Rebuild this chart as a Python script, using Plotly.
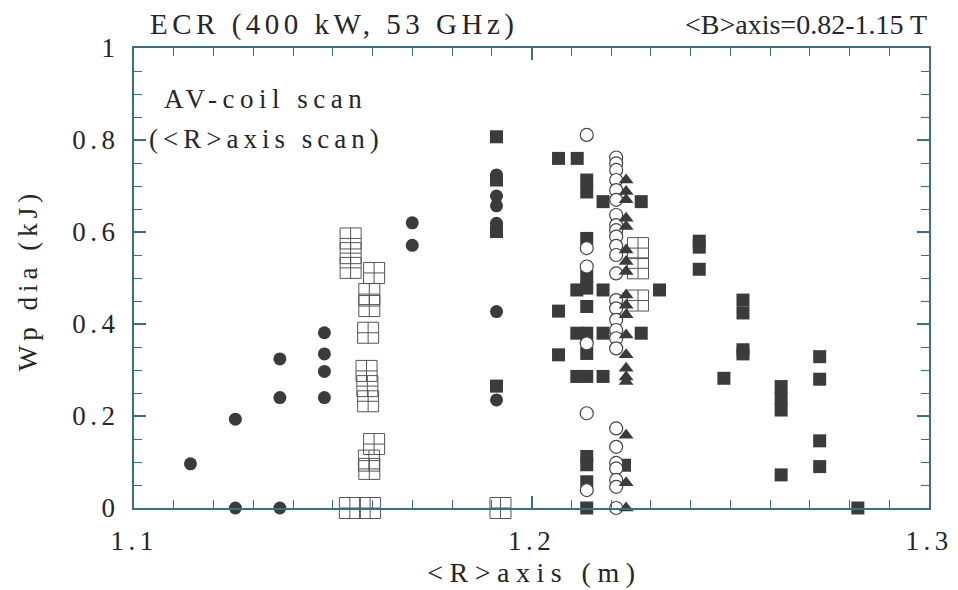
import plotly.graph_objects as go

# ---- data ----
circ_x = [1.1142, 1.1255, 1.1255, 1.1367, 1.1367, 1.1367, 1.1479, 1.1479, 1.1479, 1.1479,
          1.1700, 1.1700, 1.1912, 1.1912, 1.1912, 1.1912, 1.1912, 1.1912]
circ_y = [0.096, 0.193, 0.0, 0.324, 0.240, 0.0, 0.381, 0.335, 0.297, 0.240,
          0.620, 0.571, 0.724, 0.678, 0.657, 0.619, 0.427, 0.235]

sq_x = [1.1912, 1.1912, 1.1912, 1.1912,
        1.2068, 1.2115, 1.2139, 1.2139, 1.2180, 1.2276, 1.2139,
        1.2139, 1.2139, 1.2139, 1.2114, 1.2180, 1.2322, 1.2068,
        1.2114, 1.2139, 1.2180, 1.2276, 1.2139, 1.2068,
        1.2114, 1.2139, 1.2180, 1.2139, 1.2139, 1.2139, 1.2139, 1.2234,
        1.2422, 1.2422, 1.2422, 1.2532, 1.2532, 1.2532, 1.2532, 1.2484,
        1.2628, 1.2628, 1.2628, 1.2628, 1.2725, 1.2725, 1.2725, 1.2725, 1.2821]
sq_y = [0.807, 0.713, 0.601, 0.265,
        0.760, 0.760, 0.713, 0.687, 0.666, 0.666, 0.586,
        0.503, 0.478, 0.438, 0.474, 0.474, 0.474, 0.428,
        0.380, 0.380, 0.380, 0.380, 0.336, 0.333,
        0.286, 0.286, 0.286, 0.112, 0.094, 0.057, 0.0, 0.093,
        0.580, 0.567, 0.519, 0.452, 0.424, 0.344, 0.335, 0.282,
        0.264, 0.238, 0.213, 0.072, 0.329, 0.280, 0.146, 0.090, 0.0]

open_x = [1.2139] * 6 + [1.2213] * 26
open_y = [0.811, 0.565, 0.525, 0.358, 0.206, 0.039,
          0.762, 0.749, 0.735, 0.713, 0.691, 0.670, 0.637, 0.615, 0.604, 0.590,
          0.570, 0.550, 0.510, 0.452, 0.434, 0.409, 0.387, 0.369, 0.347,
          0.173, 0.133, 0.098, 0.086, 0.061, 0.046, 0.0]

tri_x = [1.2238] * 19
tri_y = [0.713, 0.688, 0.670, 0.630, 0.612, 0.561, 0.536, 0.514, 0.463, 0.441,
         0.420, 0.376, 0.333, 0.304, 0.285, 0.275, 0.158, 0.055, 0.0]

box_x = [1.1545, 1.1545, 1.1545, 1.1543,
         1.1604, 1.1592, 1.1592, 1.1589, 1.1585, 1.1587, 1.1589, 1.1604, 1.1591, 1.1592, 1.1594,
         1.1922, 1.2268, 1.2268, 1.2268]
box_y = [0.586, 0.554, 0.522, 0.0,
         0.511, 0.465, 0.439, 0.381, 0.298, 0.265, 0.232, 0.139, 0.103, 0.085, 0.0,
         0.0, 0.565, 0.521, 0.451]

x_ticks = [1.1, 1.2, 1.3]
x_tick_text = ["1.1", "1.2", "1.3"]
y_ticks = [0, 0.2, 0.4, 0.6, 0.8, 1.0]
y_tick_text = ["0", "0.2", "0.4", "0.6", "0.8", "1"]

FILL = "#3b3b3b"
FRAME = "#3a6f88"
TXT = "#262626"
FONT = "Liberation Serif"

fig = go.Figure()
fig.add_trace(go.Scatter(x=box_x, y=box_y, mode="markers", cliponaxis=False,
                         marker=dict(symbol="square-cross-open", size=21, color="#555555",
                                     line=dict(width=1, color="#555555"))))
fig.add_trace(go.Scatter(x=circ_x, y=circ_y, mode="markers", cliponaxis=False,
                         marker=dict(symbol="circle", size=13, color=FILL, line=dict(width=0))))
fig.add_trace(go.Scatter(x=sq_x, y=sq_y, mode="markers", cliponaxis=False,
                         marker=dict(symbol="square", size=13, color=FILL, line=dict(width=0))))
fig.add_trace(go.Scatter(x=open_x, y=open_y, mode="markers", cliponaxis=False,
                         marker=dict(symbol="circle", size=13, color="white",
                                     line=dict(width=1.2, color="#444444"))))
fig.add_trace(go.Scatter(x=tri_x, y=tri_y, mode="markers", cliponaxis=False,
                         marker=dict(symbol="triangle-up", size=13, color=FILL, line=dict(width=0))))

axis_common = dict(showgrid=False, zeroline=False, showline=True, linecolor=FRAME, linewidth=2,
                   mirror="ticks", ticks="inside", tickcolor=FRAME, tickwidth=1.5, ticklen=12,
                   tickfont=dict(family=FONT, size=27, color=TXT))

fig.update_xaxes(range=[1.1, 1.3], tickvals=x_ticks, ticktext=x_tick_text,
                 minor=dict(dtick=0.01, ticks="inside", ticklen=8, tickcolor=FRAME, tickwidth=1.3),
                 ticklabelstandoff=8, **axis_common)
fig.update_yaxes(range=[0, 1], tickvals=y_ticks, ticktext=y_tick_text,
                 minor=dict(dtick=0.05, ticks="inside", ticklen=8, tickcolor=FRAME, tickwidth=1.3),
                 ticklabelstandoff=7, **axis_common)

def ann(text, x, y, xanchor, size, align="left", textangle=0):
    return dict(text=text, xref="paper", yref="paper", x=x, y=y, xanchor=xanchor,
                yanchor="middle", showarrow=False, align=align, textangle=textangle,
                font=dict(family=FONT, size=size, color=TXT))

fig.update_layout(
    width=958, height=590, showlegend=False,
    margin=dict(l=134, r=23, t=48, b=82),
    paper_bgcolor="white", plot_bgcolor="white",
    annotations=[
        ann("ECR (400 kW, 53 GHz)", 0.0175, 1.05, "left", 29),
        ann("&lt;B&gt;axis=0.82-1.15 T", 1.0, 1.05, "right", 28, align="right"),
        ann("AV-coil scan", 0.035, 0.889, "left", 27),
        ann("(&lt;R&gt;axis scan)", 0.016, 0.802, "left", 27),
        ann("Wp dia (kJ)", -0.1336, 0.496, "center", 27, align="center", textangle=-90),
        ann("&lt;R&gt;axis (m)", 0.504, -0.141, "center", 28, align="center"),
    ],
)

# widen the character spacing of the scanned-looking labels
post = """
var gd = document.getElementById('{plot_id}');
var sp = ['4.5px', '0px', '5.5px', '5px', '5px', '6.5px'];
gd.querySelectorAll('.annotation-text').forEach(function(t, i) {
  if (i < sp.length) { t.style.letterSpacing = sp[i]; }
});
gd.querySelectorAll('.xtick text, .ytick text').forEach(function(t) {
  t.style.letterSpacing = '4.5px';
});
"""
fig.write_html("out.html", post_script=post)
